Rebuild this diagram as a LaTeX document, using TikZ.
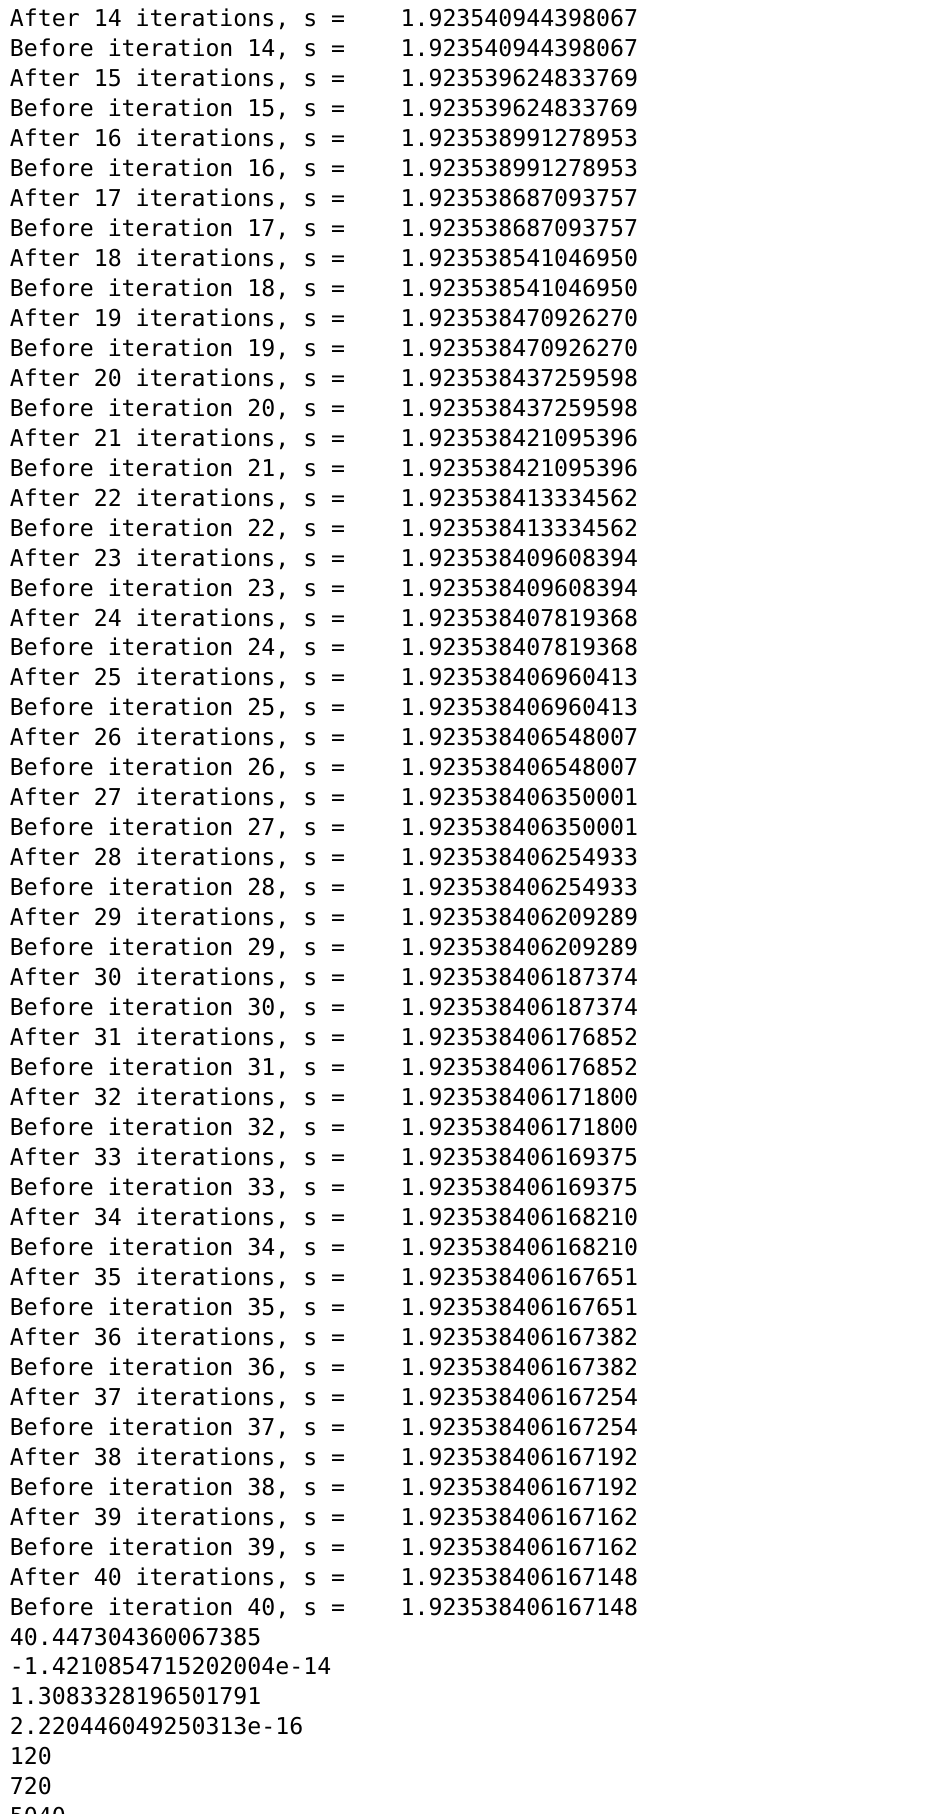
\documentclass[tikz,border=0pt]{standalone}
\usepackage{fontspec}
\setmonofont{DejaVu Sans Mono}

\begin{document}
\begin{tikzpicture}[x=0.5pt, y=-0.5pt,
      every node/.style = {anchor=base west, inner sep=0pt, outer sep=0pt,
        font=\ttfamily\fontsize{11.6}{15}\selectfont}]
  \useasboundingbox[fill=white] (0,0) rectangle (926,1814);
  % one After line and one Before line for each iteration
  \foreach \k/\s [count=\n from 0] in {14/1.923540944398067, 15/1.923539624833769,
      16/1.923538991278953, 17/1.923538687093757, 18/1.923538541046950,
      19/1.923538470926270, 20/1.923538437259598, 21/1.923538421095396,
      22/1.923538413334562, 23/1.923538409608394, 24/1.923538407819368,
      25/1.923538406960413, 26/1.923538406548007, 27/1.923538406350001,
      28/1.923538406254933, 29/1.923538406209289, 30/1.923538406187374,
      31/1.923538406176852, 32/1.923538406171800, 33/1.923538406169375,
      34/1.923538406168210, 35/1.923538406167651, 36/1.923538406167382,
      37/1.923538406167254, 38/1.923538406167192, 39/1.923538406167162,
      40/1.923538406167148}
  {
    \pgfmathsetmacro{\ya}{26.6+59.94*\n}
    \pgfmathsetmacro{\yb}{\ya+29.97}
    \node (aft\k) at (10,\ya) {After \k{} iterations, s =};
    \node (aftval\k) at (400.6,\ya) {\s};
    \node (bef\k) at (10,\yb) {Before iteration \k, s =};
    \node (befval\k) at (400.6,\yb) {\s};
  }
  % results printed after the loop
  \foreach \v [count=\n from 54] in {40.447304360067385, -1.4210854715202004e-14,
      1.3083328196501791, 2.220446049250313e-16, 120, 720, 5040}
  {
    \pgfmathsetmacro{\yc}{26.6+29.97*\n}
    \node (res\n) at (10,\yc) {\v};
  }
\end{tikzpicture}
\end{document}
